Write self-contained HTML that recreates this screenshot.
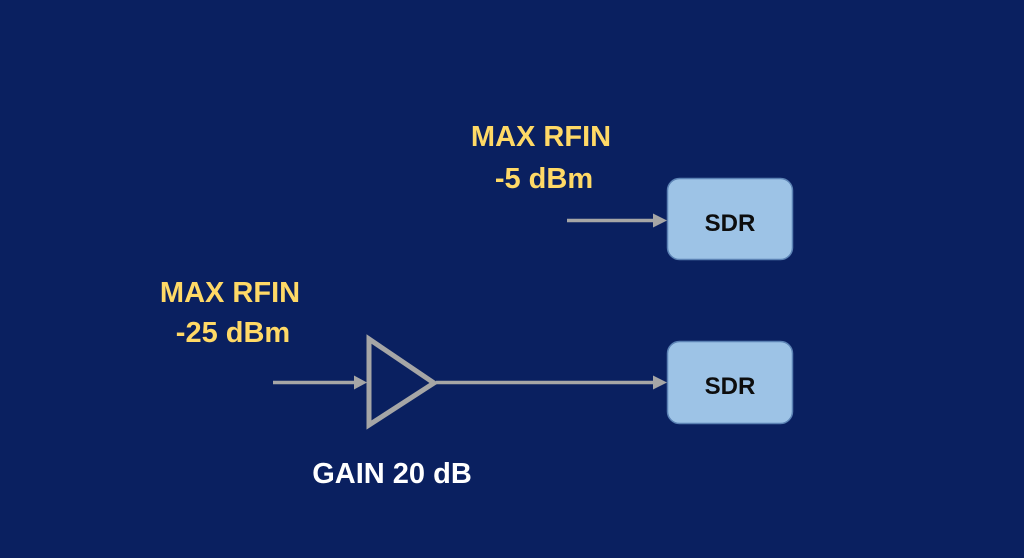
<!DOCTYPE html>
<html><head><meta charset="utf-8"><style>
html,body{margin:0;padding:0;}
body{width:1024px;height:558px;background:#0a2060;overflow:hidden;}
svg{display:block;}
</style></head><body>
<svg width="1024" height="558" viewBox="0 0 1024 558" xmlns="http://www.w3.org/2000/svg">
<rect x="0" y="0" width="1024" height="558" fill="#0a2060"/>
<!-- SDR boxes -->
<rect x="667.5" y="178.5" width="125" height="81" rx="12" ry="12" fill="#9dc3e6" stroke="#5b82b4" stroke-width="1.5"/>
<rect x="667.5" y="341.5" width="125" height="82" rx="12" ry="12" fill="#9dc3e6" stroke="#5b82b4" stroke-width="1.5"/>
<text x="730" y="231" font-family="Liberation Sans, sans-serif" font-weight="bold" font-size="24" fill="#0d0d0d" text-anchor="middle">SDR</text>
<text x="730" y="394" font-family="Liberation Sans, sans-serif" font-weight="bold" font-size="24" fill="#0d0d0d" text-anchor="middle">SDR</text>
<!-- top arrow -->
<line x1="567" y1="220.5" x2="655" y2="220.5" stroke="#a6a6a6" stroke-width="3.5"/>
<polygon points="653,213.5 667,220.5 653,227.5" fill="#a6a6a6"/>
<!-- bottom input arrow -->
<line x1="273" y1="382.5" x2="356" y2="382.5" stroke="#a6a6a6" stroke-width="3.5"/>
<polygon points="354,375.5 367,382.5 354,389.5" fill="#a6a6a6"/>
<!-- amplifier -->
<polygon points="369,339 434,383 369,425" fill="none" stroke="#a6a6a6" stroke-width="5" stroke-linejoin="miter"/>
<!-- output arrow -->
<line x1="436" y1="382.5" x2="655" y2="382.5" stroke="#a6a6a6" stroke-width="3.5"/>
<polygon points="653,375.5 667,382.5 653,389.5" fill="#a6a6a6"/>
<!-- labels -->
<g font-family="Liberation Sans, sans-serif" font-weight="bold" font-size="29" text-anchor="middle">
<text x="541" y="146" fill="#ffd966">MAX RFIN</text>
<text x="544" y="188" fill="#ffd966">-5 dBm</text>
<text x="230" y="302" fill="#ffd966">MAX RFIN</text>
<text x="233" y="342" fill="#ffd966">-25 dBm</text>
<text x="392" y="483" fill="#ffffff">GAIN 20 dB</text>
</g>
</svg>
</body></html>
